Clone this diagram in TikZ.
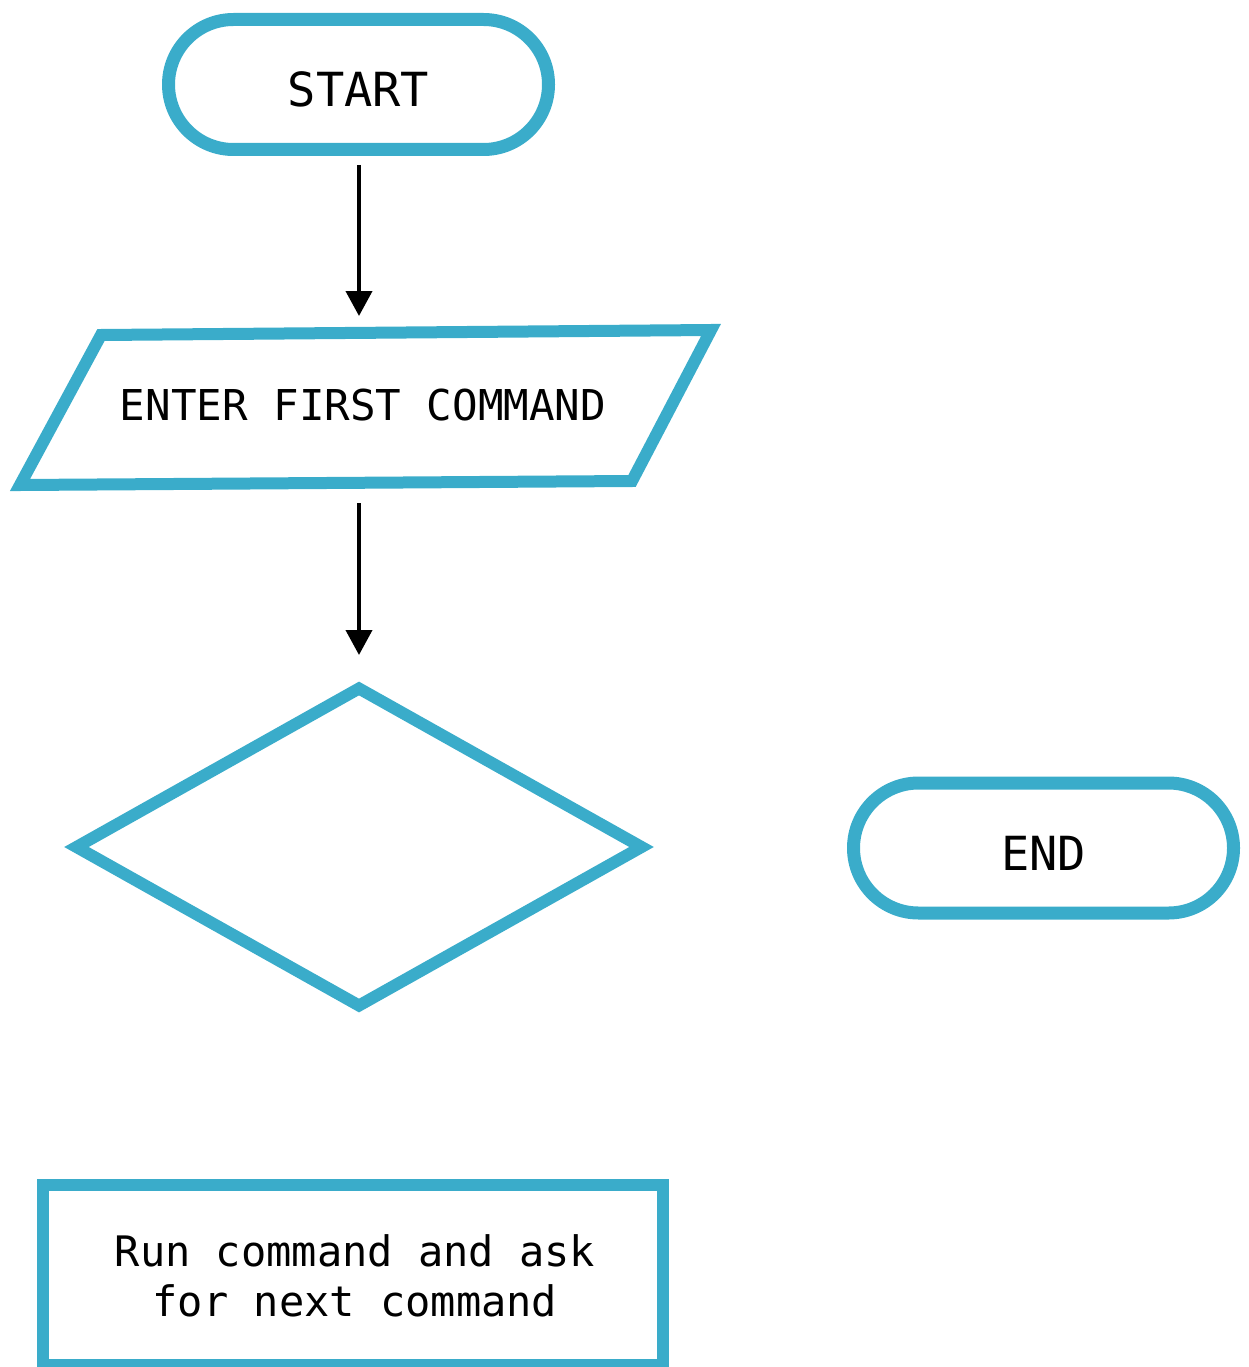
\documentclass[tikz,border=0pt]{standalone}
\usepackage{fontspec}
\setmainfont{DejaVu Sans Mono}
\usetikzlibrary{shapes.geometric,arrows.meta}
\definecolor{flowblue}{RGB}{58,172,202}
\newcommand{\lowertext}[1]{\raisebox{0pt}[\dimexpr\height+10pt\relax][\depth]{#1}}
\begin{document}
\begin{tikzpicture}[x=1pt,y=-1pt,
  lbl/.style={font=\fontsize{42.5}{50}\selectfont, text=black, inner sep=0pt, align=center},
  term/.style={draw=flowblue, line width=13pt, rounded corners=65pt, minimum width=380pt, minimum height=130pt, inner sep=0pt, lbl, font=\fontsize{47}{55}\selectfont},
  outl/.style={draw=flowblue, line width=12pt},
  arr/.style={draw=black, line width=4pt, -{Triangle[width=26pt,length=25pt]}}]
\useasboundingbox (0,0) rectangle (1248,1367);
% START
\node[term] (start) at (358.5,84.5) {\lowertext{START}};
% input parallelogram
\draw[outl] (101,335) -- (711,330) -- (632,481) -- (20,485) -- cycle;
\node[lbl] (inp) at (363,405) {ENTER FIRST COMMAND};
% decision
\node[diamond, outl, minimum width=570pt, minimum height=322pt, inner sep=0pt] (dec) at (359,847) {};
% END
\node[term] (end) at (1043.5,848) {\lowertext{END}};
% process box
\node[rectangle, outl, minimum width=620pt, minimum height=180pt, inner sep=0pt] (proc) at (353,1274.5) {};
\node[lbl, font=\fontsize{42}{50}\selectfont] (proctext) at (355,1276) {Run command and ask\\for next command};
% arrows
\coordinate (a1s) at (359,165);
\coordinate (a1e) at (359,316);
\coordinate (a2s) at (359,503);
\coordinate (a2e) at (359,655);
\draw[arr] (a1s) -- (a1e);
\draw[arr] (a2s) -- (a2e);
\end{tikzpicture}
\end{document}
